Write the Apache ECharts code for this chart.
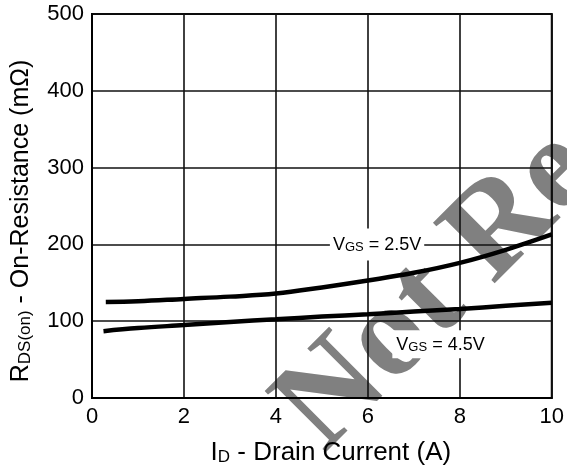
<!DOCTYPE html>
<html>
<head>
<meta charset="utf-8">
<script src="https://cdn.jsdelivr.net/npm/echarts@6/dist/echarts.min.js"></script>
<style>
html,body{margin:0;padding:0;background:#fff;}
#chart{width:567px;height:471px;}
</style>
</head>
<body>
<div id="chart"></div>
<script>
// Data
const xTicks = [0, 2, 4, 6, 8, 10];
const yTicks = [0, 100, 200, 300, 400, 500];
const idVgs25 = [0.3, 1, 2, 3, 4, 5, 6, 7, 8, 9, 10];
const rdsVgs25 = [125, 126, 129, 132, 136, 144, 153, 163, 176, 193, 213];
const idVgs45 = [0.25, 1, 2, 3, 4, 5, 6, 7, 8, 9, 10];
const rdsVgs45 = [87, 91, 95, 99, 102.5, 106, 109, 112.5, 116, 120, 124];
const labelVgs25 = { text: 'GS', value: ' = 2.5V', at: [6.2, 200] };
const labelVgs45 = { text: 'GS', value: ' = 4.5V', at: [7.58, 70] };
const watermark = 'Not Recommended';

const FONT = '"Liberation Sans", Arial, sans-serif';

function pairs(xs, ys) { return xs.map((x, i) => [x, ys[i]]); }

function curveLabel(l, padV, padH) {
  return {
    symbol: 'rect', symbolSize: 1, itemStyle: { color: 'rgba(0,0,0,0)' },
    data: [{ coord: l.at }],
    label: {
      show: true, position: 'inside',
      formatter: '{m|V}{s|' + l.text + '}{m|' + l.value + '}',
      backgroundColor: '#fff', padding: [padV, padH, padV, padH],
      rich: {
        m: { fontSize: 18, fontFamily: FONT, color: '#000', lineHeight: 20, verticalAlign: 'bottom' },
        s: { fontSize: 13, fontFamily: FONT, color: '#000', lineHeight: 20, verticalAlign: 'bottom' }
      }
    }
  };
}

const chart = echarts.init(document.getElementById('chart'), null, { renderer: 'canvas' });
chart.setOption({
  animation: false,
  backgroundColor: '#fff',
  grid: { left: 92, right: 11, top: 14, bottom: 73, show: true, borderColor: '#000', borderWidth: 2, containLabel: false },
  xAxis: {
    type: 'value', min: xTicks[0], max: xTicks[xTicks.length - 1], interval: xTicks[1] - xTicks[0],
    axisLine: { show: true, lineStyle: { color: '#000', width: 2 } },
    axisTick: { show: false },
    splitLine: { show: true, lineStyle: { color: '#111', width: 1.6 } },
    axisLabel: { fontSize: 22, fontFamily: FONT, color: '#000', margin: 8 },
    name: '{m|I}{s|D}{m| - Drain Current (A)}',
    nameLocation: 'middle', nameGap: 40,
    nameTextStyle: {
      padding: [0, 0, 0, 18],
      rich: {
        m: { fontSize: 26, fontFamily: FONT, color: '#000', lineHeight: 28, verticalAlign: 'bottom' },
        s: { fontSize: 17, fontFamily: FONT, color: '#000', lineHeight: 28, verticalAlign: 'bottom' }
      }
    }
  },
  yAxis: {
    type: 'value', min: yTicks[0], max: yTicks[yTicks.length - 1], interval: yTicks[1] - yTicks[0],
    axisLine: { show: true, lineStyle: { color: '#000', width: 2 } },
    axisTick: { show: false },
    splitLine: { show: true, lineStyle: { color: '#111', width: 1.6 } },
    axisLabel: { fontSize: 22, fontFamily: FONT, color: '#000', margin: 8 },
    name: '{m|R}{s|DS(on)}{m| - On-Resistance (mΩ)}',
    nameLocation: 'middle', nameGap: 58, nameRotate: 90,
    nameTextStyle: {
      padding: [0, 30, 0, 0],
      rich: {
        m: { fontSize: 25, fontFamily: FONT, color: '#000', lineHeight: 28, verticalAlign: 'bottom' },
        s: { fontSize: 17, fontFamily: FONT, color: '#000', lineHeight: 28, verticalAlign: 'bottom' }
      }
    }
  },
  graphic: [{
    type: 'text', x: 300, y: 430, rotation: Math.PI / 4, z: -10, silent: true,
    style: {
      text: watermark, fontFamily: '"Liberation Serif", "Times New Roman", serif', fontWeight: 'bold',
      fontSize: 132, fill: '#808080', align: 'left', verticalAlign: 'middle'
    }
  }],
  series: [
    {
      type: 'line', name: 'VGS = 2.5V', data: pairs(idVgs25, rdsVgs25), smooth: 0.4,
      symbol: 'none', lineStyle: { color: '#000', width: 4.5 }, z: 3,
      markPoint: curveLabel(labelVgs25, 6, 3)
    },
    {
      type: 'line', name: 'VGS = 4.5V', data: pairs(idVgs45, rdsVgs45), smooth: 0.4,
      symbol: 'none', lineStyle: { color: '#000', width: 4.5 }, z: 3,
      markPoint: curveLabel(labelVgs45, 4, 4)
    }
  ]
});
</script>
</body>
</html>
